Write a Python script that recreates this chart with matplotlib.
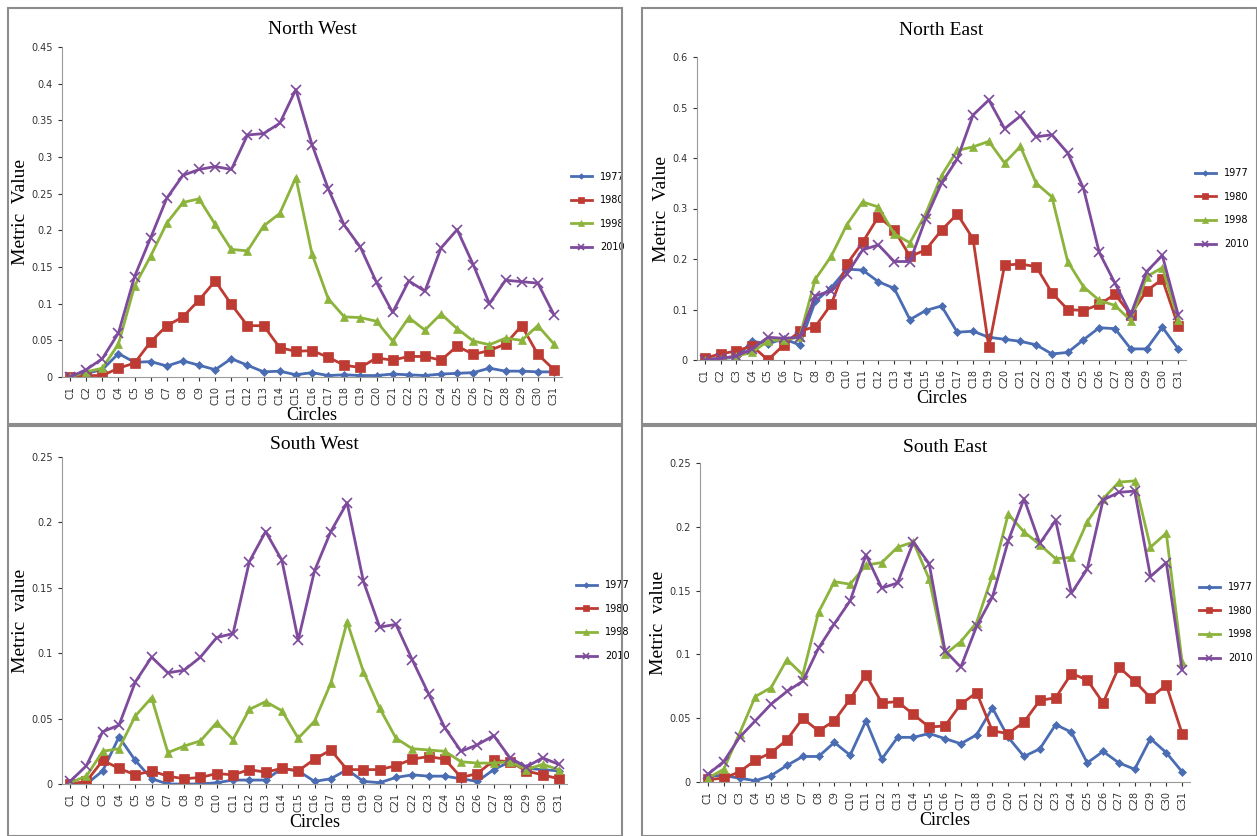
import matplotlib
matplotlib.use("Agg")
import matplotlib.pyplot as plt
from matplotlib.patches import Rectangle

circles = ["C%d" % i for i in range(1, 32)]
years = ["1977", "1980", "1998", "2010"]

nw_1977 = [0,0.005,0.01,0.032,0.02,0.021,0.015,0.022,0.016,0.01,0.025,0.016,0.007,0.008,0.003,0.006,0.002,0.003,0.002,0.002,0.004,0.003,0.002,0.004,0.005,0.006,0.012,0.008,0.008,0.007,0.007]
nw_1980 = [0,0.002,0.002,0.012,0.019,0.048,0.07,0.082,0.105,0.131,0.099,0.07,0.07,0.04,0.035,0.036,0.027,0.016,0.013,0.026,0.023,0.028,0.028,0.023,0.042,0.031,0.036,0.045,0.07,0.031,0.01]
nw_1998 = [0,0.007,0.012,0.045,0.124,0.165,0.21,0.238,0.243,0.208,0.174,0.172,0.206,0.223,0.272,0.168,0.107,0.082,0.081,0.076,0.049,0.081,0.064,0.086,0.066,0.049,0.044,0.053,0.05,0.07,0.045]
nw_2010 = [0,0.01,0.025,0.06,0.137,0.19,0.244,0.275,0.283,0.287,0.283,0.33,0.332,0.346,0.392,0.317,0.257,0.207,0.177,0.129,0.088,0.131,0.117,0.176,0.201,0.153,0.1,0.132,0.13,0.128,0.085]

ne_1977 = [0.002,0.003,0.005,0.037,0.032,0.042,0.03,0.116,0.143,0.18,0.178,0.155,0.142,0.08,0.098,0.107,0.055,0.057,0.045,0.041,0.037,0.03,0.012,0.015,0.04,0.064,0.062,0.022,0.022,0.065,0.022]
ne_1980 = [0.004,0.012,0.018,0.028,0,0.03,0.057,0.066,0.11,0.19,0.233,0.284,0.258,0.205,0.218,0.257,0.289,0.24,0.025,0.188,0.19,0.185,0.133,0.1,0.098,0.11,0.13,0.09,0.137,0.16,0.068]
ne_1998 = [0,0.002,0.008,0.015,0.038,0.04,0.045,0.16,0.205,0.268,0.313,0.303,0.25,0.232,0.29,0.365,0.415,0.422,0.433,0.39,0.423,0.35,0.323,0.195,0.145,0.118,0.108,0.078,0.165,0.183,0.08]
ne_2010 = [0,0.003,0.008,0.022,0.045,0.043,0.045,0.127,0.137,0.17,0.218,0.228,0.195,0.195,0.28,0.35,0.398,0.485,0.515,0.458,0.483,0.442,0.446,0.41,0.34,0.213,0.152,0.09,0.175,0.207,0.09]

sw_1977 = [0,0,0.01,0.036,0.018,0.004,0,0,0,0.001,0.003,0.003,0.003,0.012,0.01,0.002,0.004,0.011,0.002,0.001,0.005,0.007,0.006,0.006,0.004,0.002,0.011,0.017,0.012,0.011,0.01]
sw_1980 = [0,0.002,0.018,0.012,0.007,0.01,0.006,0.004,0.005,0.008,0.007,0.011,0.009,0.012,0.01,0.019,0.026,0.011,0.011,0.011,0.014,0.019,0.021,0.019,0.005,0.008,0.018,0.017,0.01,0.007,0.004]
sw_1998 = [0.001,0.006,0.025,0.027,0.052,0.066,0.024,0.029,0.033,0.047,0.034,0.057,0.063,0.056,0.035,0.048,0.077,0.124,0.086,0.058,0.035,0.027,0.026,0.025,0.017,0.016,0.016,0.017,0.011,0.015,0.011]
sw_2010 = [0.002,0.014,0.04,0.045,0.078,0.097,0.085,0.087,0.097,0.112,0.115,0.17,0.193,0.171,0.11,0.163,0.193,0.215,0.155,0.12,0.122,0.095,0.069,0.043,0.025,0.03,0.037,0.02,0.013,0.02,0.015]

se_1977 = [0.005,0.005,0.003,0.001,0.005,0.013,0.02,0.02,0.031,0.021,0.048,0.018,0.035,0.035,0.038,0.034,0.03,0.037,0.058,0.035,0.02,0.026,0.045,0.039,0.015,0.024,0.015,0.01,0.034,0.023,0.008]
se_1980 = [0.002,0.003,0.008,0.017,0.023,0.033,0.05,0.04,0.048,0.065,0.084,0.062,0.063,0.053,0.043,0.044,0.061,0.07,0.04,0.038,0.047,0.064,0.066,0.085,0.08,0.062,0.09,0.079,0.066,0.076,0.038]
se_1998 = [0.003,0.01,0.038,0.067,0.074,0.096,0.084,0.133,0.157,0.155,0.17,0.172,0.184,0.188,0.159,0.1,0.11,0.125,0.162,0.21,0.196,0.186,0.175,0.176,0.204,0.222,0.235,0.236,0.184,0.195,0.094]
se_2010 = [0.006,0.016,0.035,0.048,0.061,0.071,0.079,0.105,0.124,0.142,0.178,0.152,0.156,0.188,0.171,0.103,0.09,0.122,0.145,0.189,0.222,0.187,0.205,0.148,0.167,0.221,0.227,0.228,0.161,0.172,0.088]

colors = ["#4a6cb3", "#be3b33", "#8cb43c", "#7d4a9c"]
markers = ["D", "s", "^", "x"]
msizes = [4, 7, 6, 7]

W, H = 1257, 836
fig = plt.figure(figsize=(W / 100, H / 100), dpi=100)

# panel: title, ylabel, series, ymax, ystep, axes box (px: left, top, right, bottom), frame box, title pad
panels = [
    ("North West", "Metric  Value", [nw_1977, nw_1980, nw_1998, nw_2010], 0.45, 0.05, (62, 47, 562, 377), (8, 8, 622, 424), 9),
    ("North East", "Metric  Value", [ne_1977, ne_1980, ne_1998, ne_2010], 0.6, 0.1, (697, 57, 1186, 360), (642, 8, 1257, 424), 16),
    ("South West", "Metric  value", [sw_1977, sw_1980, sw_1998, sw_2010], 0.25, 0.05, (62, 457, 567, 784), (8, 426, 622, 836), 6),
    ("South East", "Metric  value", [se_1977, se_1980, se_1998, se_2010], 0.25, 0.05, (700, 463, 1190, 782), (642, 426, 1257, 836), 8),
]

serif = ["Liberation Serif", "DejaVu Serif"]
for title, ylab, series, ymax, ystep, box, frame, tpad in panels:
    fx0, fy0, fx1, fy1 = frame
    fig.patches.append(Rectangle((fx0 / W, 1 - fy1 / H), (fx1 - fx0) / W, (fy1 - fy0) / H,
                                 transform=fig.transFigure, fill=False, edgecolor="#8c8c8c", lw=1.5))
    l, t, r, b = box
    ax = fig.add_axes([l / W, 1 - b / H, (r - l) / W, (b - t) / H])
    x = list(range(len(circles)))
    for i, s in enumerate(series):
        ax.plot(x, s, color=colors[i], marker=markers[i], markersize=msizes[i], lw=2,
                markeredgewidth=1.2 if markers[i] == "x" else 0.5, label=years[i])
    ax.set_xlim(-0.5, len(circles) - 0.5)
    ax.set_ylim(0, ymax)
    n = int(round(ymax / ystep))
    ticks = [ystep * k for k in range(n + 1)]
    ax.set_yticks(ticks)
    ax.set_yticklabels([("%g" % round(v, 2)) for v in ticks], fontsize=7)
    ax.set_xticks(x)
    ax.set_xticklabels(circles, rotation=90, fontsize=7)
    for sp in ["top", "right"]:
        ax.spines[sp].set_visible(False)
    ax.spines["left"].set_color("#999999")
    ax.spines["bottom"].set_color("#999999")
    ax.tick_params(colors="#333333", length=3)
    ax.set_title(title, family=serif, fontsize=14, pad=tpad)
    ax.set_ylabel(ylab, family=serif, fontsize=14, labelpad=2)
    ax.set_xlabel("Circles", family=serif, fontsize=13, labelpad=1)
    ax.legend(loc="center left", bbox_to_anchor=(1.0, 0.5), frameon=False, fontsize=7,
              handlelength=2.2, labelspacing=1.4, markerscale=0.7)

fig.savefig("out.png", dpi=100)
